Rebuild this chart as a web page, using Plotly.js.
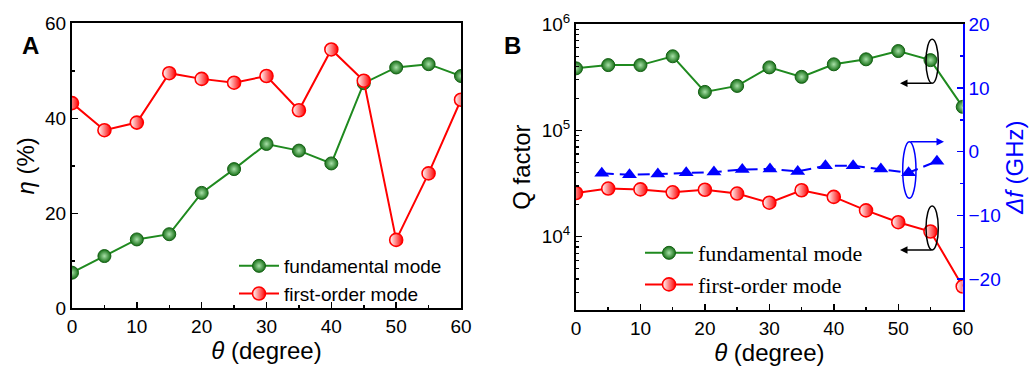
<!DOCTYPE html>
<html>
<head>
<meta charset="utf-8">
<script src="https://cdn.plot.ly/plotly-3.0.1.min.js"></script>
<style>html,body{margin:0;padding:0;background:#fff;}#chart{width:1036px;height:367px;}</style>
</head>
<body>
<div id="chart"></div>
<script>
// ---------- data ----------
const theta = [0, 5, 10, 15, 20, 25, 30, 35, 40, 45, 50, 55, 60];
// Panel A: efficiency eta (%)
const etaFundamental = [7.5, 11.0, 14.5, 15.6, 24.3, 29.3, 34.6, 33.2, 30.5, 47.4, 50.7, 51.4, 48.9];
const etaFirstOrder  = [43.2, 37.5, 39.1, 49.5, 48.3, 47.5, 48.9, 41.7, 54.5, 47.9, 14.4, 28.4, 43.9];
// Panel B: Q factor
const qFundamental = [3.85e5, 4.13e5, 4.13e5, 5.0e5, 2.31e5, 2.63e5, 3.93e5, 3.2e5, 4.2e5, 4.68e5, 5.6e5, 4.6e5, 1.67e5];
const qFirstOrder  = [2.58e4, 2.84e4, 2.79e4, 2.62e4, 2.77e4, 2.55e4, 2.09e4, 2.74e4, 2.37e4, 1.77e4, 1.37e4, 1.12e4, 3.4e3];
// Panel B: frequency difference (GHz)
const thetaDf = [4.0, 8.3, 12.7, 17.1, 21.4, 25.8, 30.1, 34.4, 38.7, 43.0, 47.3, 51.6, 56.0];
const deltaF  = [-3.4, -3.6, -3.5, -3.3, -3.2, -2.8, -2.7, -3.1, -2.2, -2.2, -2.7, -3.3, -1.5];
// tick labels
const qTickVals = [1e4, 1e5, 1e6];
const qTickText = ['10<sup>4</sup>', '10<sup>5</sup>', '10<sup>6</sup>'];
const legendNames = ['fundamental mode', 'first-order mode'];

// ---------- helpers ----------
const W = 1036, H = 367;
const px = x => x / W;
const py = y => 1 - y / H;
const GREEN = '#1f8a1f', RED = '#ff0000', BLUE = '#0000ff';
const SANS = 'Liberation Sans, Arial, sans-serif';
const SERIF = 'Liberation Serif, Times New Roman, serif';

const greenMarker = {symbol: 'circle', size: 13, color: '#167016',
  gradient: {type: 'radial', color: '#a8e0a8'}, line: {color: '#156015', width: 1}};
const redMarker = {symbol: 'circle', size: 13, color: '#ffffff',
  gradient: {type: 'horizontal', color: RED}, line: {color: RED, width: 1.6}};

const logMinor = [];
[1e3, 1e4, 1e5].forEach(d => { for (let k = 2; k <= 9; k++) logMinor.push(k * d); });

const traces = [
  {x: theta, y: etaFundamental, xaxis: 'x', yaxis: 'y', mode: 'lines+markers', name: legendNames[0],
   line: {color: GREEN, width: 2}, marker: greenMarker, legend: 'legend'},
  {x: theta, y: etaFirstOrder, xaxis: 'x', yaxis: 'y', mode: 'lines+markers', name: legendNames[1],
   line: {color: RED, width: 2}, marker: redMarker, legend: 'legend'},
  {x: theta, y: qFundamental, xaxis: 'x2', yaxis: 'y2', mode: 'lines+markers', name: legendNames[0],
   line: {color: GREEN, width: 2}, marker: greenMarker, legend: 'legend2'},
  {x: theta, y: qFirstOrder, xaxis: 'x2', yaxis: 'y2', mode: 'lines+markers', name: legendNames[1],
   line: {color: RED, width: 2}, marker: redMarker, legend: 'legend2'},
  {x: thetaDf, y: deltaF, xaxis: 'x2', yaxis: 'y3', mode: 'lines+markers', name: 'Δf', showlegend: false,
   line: {color: BLUE, width: 2, dash: '12px,6px'}, marker: {symbol: 'triangle-up', size: 13, color: BLUE}}
];

const axBase = {showline: true, linecolor: '#000', linewidth: 2, ticks: 'inside', ticklen: 6, tickwidth: 1.5,
  tickcolor: '#000', showgrid: false, zeroline: false, tickfont: {family: SANS, size: 19, color: '#000'}};

const layout = {
  width: W, height: H,
  margin: {l: 0, r: 0, t: 0, b: 0},
  paper_bgcolor: '#fff', plot_bgcolor: '#fff',
  showlegend: true,
  xaxis: Object.assign({}, axBase, {domain: [px(72), px(461)], anchor: 'y', range: [0, 60], dtick: 10, mirror: true,
    minor: {dtick: 5, ticks: 'inside', ticklen: 3, tickwidth: 1.5, tickcolor: '#000'},
    title: {text: '<i>θ</i> (degree)', font: {family: SANS, size: 24, color: '#000'}, standoff: 2}}),
  yaxis: Object.assign({}, axBase, {domain: [py(308.3), py(23.3)], anchor: 'x', range: [0, 60], dtick: 20, mirror: true,
    minor: {dtick: 10, ticks: 'inside', ticklen: 3, tickwidth: 1.5, tickcolor: '#000'},
    title: {text: '<i>η</i> (%)', font: {family: SANS, size: 24, color: '#000'}, standoff: 4}}),
  xaxis2: Object.assign({}, axBase, {domain: [px(576), px(962.7)], anchor: 'y2', range: [0, 60], dtick: 10, mirror: true,
    minor: {dtick: 5, ticks: 'inside', ticklen: 3, tickwidth: 1.5, tickcolor: '#000'},
    title: {text: '<i>θ</i> (degree)', font: {family: SANS, size: 24, color: '#000'}, standoff: 2}}),
  yaxis2: Object.assign({}, axBase, {domain: [py(310), py(24.3)], anchor: 'x2', type: 'log', range: [3.31, 6],
    tickmode: 'array', tickvals: qTickVals, ticktext: qTickText, mirror: false,
    minor: {tickmode: 'array', tickvals: logMinor, ticks: 'inside', ticklen: 3, tickwidth: 1.2, tickcolor: '#000'},
    title: {text: 'Q factor', font: {family: SANS, size: 24, color: '#000'}, standoff: 4}}),
  yaxis3: Object.assign({}, axBase, {overlaying: 'y2', side: 'right', anchor: 'x2', range: [-24.85, 20], dtick: 10,
    linecolor: BLUE, tickcolor: BLUE, tickfont: {family: SANS, size: 19, color: BLUE},
    minor: {dtick: 5, ticks: 'inside', ticklen: 3, tickwidth: 1.5, tickcolor: BLUE},
    title: {text: '<i>Δf</i> (GHz)', font: {family: SANS, size: 24, color: BLUE}, standoff: 6}}),
  legend: {x: px(234), y: py(247), xanchor: 'left', yanchor: 'top', bgcolor: 'rgba(0,0,0,0)',
    font: {family: SANS, size: 19, color: '#000'}, itemwidth: 40, tracegroupgap: 0},
  legend2: {x: px(640), y: py(232), xanchor: 'left', yanchor: 'top', bgcolor: 'rgba(0,0,0,0)',
    font: {family: SERIF, size: 22, color: '#000'}, itemwidth: 48, tracegroupgap: 0},
  shapes: [
    {type: 'circle', xref: 'paper', yref: 'paper', x0: px(926), x1: px(938.3), y0: py(83.3), y1: py(39.3),
     line: {color: '#000', width: 1.5}},
    {type: 'circle', xref: 'paper', yref: 'paper', x0: px(902.7), x1: px(916), y0: py(198.3), y1: py(141.7),
     line: {color: BLUE, width: 1.5}},
    {type: 'circle', xref: 'paper', yref: 'paper', x0: px(926), x1: px(938.3), y0: py(250), y1: py(206),
     line: {color: '#000', width: 1.5}}
  ],
  annotations: [
    {text: '<b>A</b>', xref: 'paper', yref: 'paper', x: px(20), y: py(30), showarrow: false,
     font: {family: SANS, size: 24, color: '#000'}},
    {text: '<b>B</b>', xref: 'paper', yref: 'paper', x: px(512), y: py(30), showarrow: false,
     font: {family: SANS, size: 24, color: '#000'}},
    {text: '', xref: 'paper', yref: 'paper', x: px(900), y: py(83.3), ax: 33, ay: 0, showarrow: true,
     arrowhead: 2, arrowsize: 1, arrowwidth: 1.5, arrowcolor: '#000'},
    {text: '', xref: 'paper', yref: 'paper', x: px(944), y: py(141.7), ax: -35, ay: 0, showarrow: true,
     arrowhead: 2, arrowsize: 1, arrowwidth: 1.5, arrowcolor: BLUE},
    {text: '', xref: 'paper', yref: 'paper', x: px(900), y: py(250), ax: 33, ay: 0, showarrow: true,
     arrowhead: 2, arrowsize: 1, arrowwidth: 1.5, arrowcolor: '#000'}
  ]
};

Plotly.newPlot('chart', traces, layout, {displayModeBar: false, staticPlot: true});
</script>
</body>
</html>
